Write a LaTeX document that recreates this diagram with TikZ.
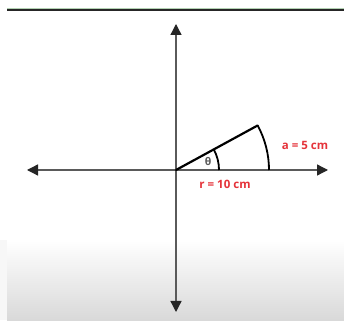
\documentclass[tikz,border=0pt]{standalone}
\usepackage{fontspec}
\setmainfont{Open Sans}
\usetikzlibrary{arrows.meta,calc}
\definecolor{lblred}{HTML}{E5333A}
\definecolor{axisgray}{HTML}{5A5A5A}
\tikzset{
  axis/.style={draw=axisgray, line width=1.3pt, -{Triangle[length=11pt,width=11pt,fill=black!85,color=black!85]}},
  radline/.style={draw=black, line width=2.2pt},
  arcline/.style={draw=black, line width=1.8pt},
  redlbl/.style={text=lblred, font=\bfseries\fontsize{11.5}{13}\selectfont, inner sep=0pt},
  thlbl/.style={text=axisgray, font=\bfseries\fontsize{10.5}{12}\selectfont, inner sep=0pt},
}
\begin{document}
\begin{tikzpicture}[x=1pt,y=1pt]
\useasboundingbox (0,0) rectangle (344,320);
\fill[white] (0,0) rectangle (344,320);
\shade[top color=white, bottom color=black!15] (7,0) rectangle (344,80);
\fill[black!3] (0,0) rectangle (7,80);
% top rule
\draw[line width=2pt, black!85] (7,310) -- (344,310);
\draw[line width=0.6pt, green!40!black!30] (7,311.4) -- (344,311.4);
% axes
\coordinate (O) at (176,150);
\coordinate (L) at (27,150);
\coordinate (R) at (328,150);
\coordinate (T) at (176,296);
\coordinate (B) at (176,8);
\draw[axis] (O) -- (L);
\draw[axis] (O) -- (R);
\draw[axis] (O) -- (T);
\draw[axis] (O) -- (B);
% sector
\draw[radline, line cap=round] (O) -- ++(28.6:93) coordinate (Q);
\draw[arcline] (Q) arc[start angle=28.6, end angle=0, radius=93];
\draw[arcline] ($(O)+(28.6:43)$) arc[start angle=28.6, end angle=0, radius=43];
% labels
\node[thlbl] (th) at (208,158) {θ};
\node[redlbl] (r) at (225,136) {r = 10 cm};
\node[redlbl] (a) at (305,175) {a = 5 cm};
\end{tikzpicture}
\end{document}
